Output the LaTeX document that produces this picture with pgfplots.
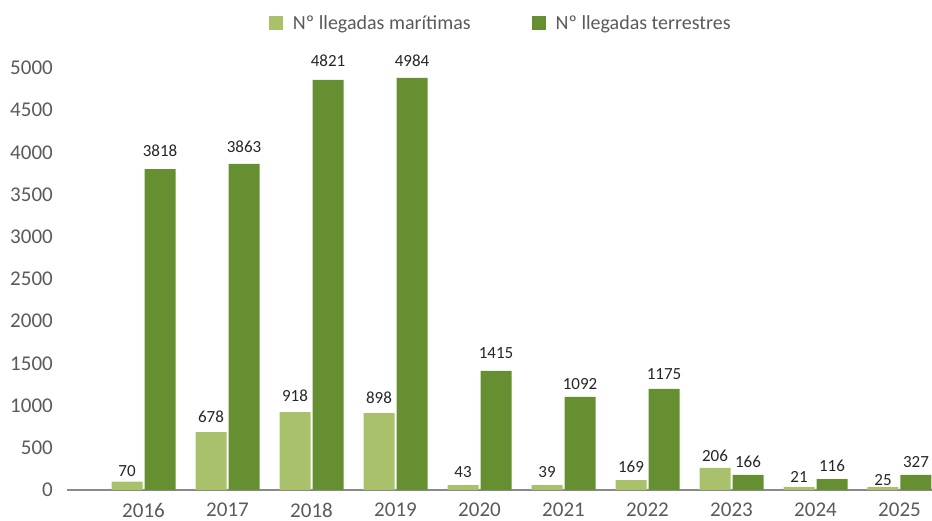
\documentclass[border=0pt]{standalone}
\usepackage{fontspec}
\setmainfont{Carlito}
\usepackage{pgfplots}
\usepackage{pgfplotstable}
\pgfplotsset{compat=1.18}
\definecolor{mar}{HTML}{A8C16A}
\definecolor{ter}{HTML}{668F31}
\definecolor{tickgray}{HTML}{5A5A5A}
\definecolor{lab}{HTML}{262626}
\definecolor{base}{HTML}{8A8A8A}

% bar heights as drawn, labels as printed, label gap above the bar (pt)
\pgfplotstableread{
year sea sealab seaoff land landlab landoff
2016 98  70  5   3803 3818 11.7
2017 687 678 9   3863 3863 11
2018 924 918 10  4858 4821 13
2019 912 898 9   4882 4984 11.3
2020 59  43  7   1410 1415 12
2021 59  39  7   1102 1092 7
2022 118 169 7   1197 1175 9
2023 261 206 6   178  166  7
2024 35  21  4   130  116  7
2025 35  25  1   178  327  7
}\datos

\pgfplotsset{sqlegend/.style={legend image code/.code={
  \fill[##1] (0pt,-7pt) rectangle (14pt,7pt);
  \path (24pt,0pt);}}}

\begin{document}
\begin{tikzpicture}
\begin{axis}[
  scale only axis, width=865pt, height=422pt,
  xmin=2015.089, xmax=2025.387, ymin=0, ymax=5000,
  ybar=2pt, bar width=31pt,
  axis x line*=bottom, axis y line*=left,
  x axis line style={-, draw=base, line width=1.5pt},
  y axis line style={draw=none},
  major tick length=0pt,
  xtick={2016,2017,2018,2019,2020,2021,2022,2023,2024,2025},
  xticklabels={2016,2017,2018,2019,2020,2021,2022,2023,2024,2025},
  ytick={0,500,...,5000},
  /pgf/number format/assume math mode=true,
  /pgf/number format/1000 sep={},
  tick label style={font=\fontsize{21}{21}\selectfont, text=tickgray, inner sep=0pt},
  yticklabel style={anchor=east, xshift=-14pt},
  xticklabel style={anchor=north, yshift=-13pt},
  clip=false,
  point meta=explicit symbolic,
  nodes near coords,
  every node near coord/.append style={font=\fontsize{17}{17}\selectfont, text=lab, inner sep=0pt, anchor=south},
  legend columns=2,
  legend style={draw=none, fill=none, at={(0.2335,1.1066)}, anchor=west,
    inner sep=0pt, outer sep=0pt,
    /tikz/every even column/.append style={column sep=61pt},
    nodes={inner sep=0pt, font=\fontsize{20}{20}\selectfont, text=tickgray}},
]
\addplot[fill=mar, draw=none, sqlegend,
  visualization depends on={\thisrow{seaoff}\as\gapoff},
  every node near coord/.append style={yshift=\gapoff*1pt}]
  table[x=year, y=sea, meta=sealab] {\datos};
\addlegendentry{Nº llegadas marítimas}
\addplot[fill=ter, draw=none, sqlegend,
  visualization depends on={\thisrow{landoff}\as\gapoff},
  every node near coord/.append style={yshift=\gapoff*1pt}]
  table[x=year, y=land, meta=landlab] {\datos};
\addlegendentry{Nº llegadas terrestres}
\end{axis}
\pgfresetboundingbox
\useasboundingbox (-67pt,-31pt) rectangle (865pt,490pt);
\end{tikzpicture}
\end{document}
